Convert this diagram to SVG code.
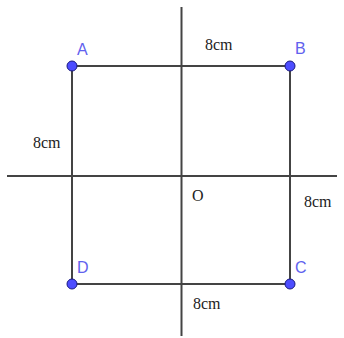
<svg xmlns="http://www.w3.org/2000/svg" width="344" height="338" viewBox="0 0 344 338">
<style>
.ln{stroke:#444;stroke-width:2;fill:none}
.pt{fill:#4d4dff;stroke:#1a1a80;stroke-width:1}
.pl{font-family:"Liberation Sans",Arial,sans-serif;font-size:16px;fill:#6161ee}
.dim{font-family:"Liberation Serif","Times New Roman",serif;font-size:16px;fill:#222}
</style>
<rect width="344" height="338" fill="#fff"/>
<g id="connectors">
<line class="ln" x1="181.5" y1="7" x2="181.5" y2="336"/>
<line class="ln" x1="7" y1="176" x2="337" y2="176"/>
<line class="ln" x1="72" y1="66" x2="290" y2="66"/>
<line class="ln" x1="290" y1="66" x2="290" y2="284"/>
<line class="ln" x1="290" y1="284" x2="72" y2="284"/>
<line class="ln" x1="72" y1="284" x2="72" y2="66"/>
</g>
<g id="A"><circle class="pt" cx="72" cy="66" r="5"/><text class="pl" x="77" y="55">A</text></g>
<g id="B"><circle class="pt" cx="290" cy="66" r="5"/><text class="pl" x="295" y="54">B</text></g>
<g id="C"><circle class="pt" cx="290" cy="284" r="5"/><text class="pl" x="295" y="273">C</text></g>
<g id="D"><circle class="pt" cx="72" cy="284" r="5"/><text class="pl" x="77" y="273">D</text></g>
<g id="O"><text class="dim" x="192" y="201">O</text></g>
<g id="labels">
<text class="dim" x="205" y="50">8cm</text>
<text class="dim" x="33" y="148">8cm</text>
<text class="dim" x="304" y="207">8cm</text>
<text class="dim" x="193" y="309">8cm</text>
</g>
</svg>
